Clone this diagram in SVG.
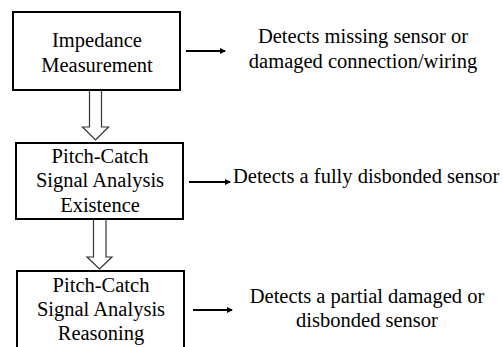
<svg xmlns="http://www.w3.org/2000/svg" width="503" height="347" viewBox="0 0 503 347">
<defs>
<style>
.box{fill:#fff;stroke:#000;stroke-width:2}
text{font-family:'Liberation Serif','Times New Roman','DejaVu Serif',serif;font-size:20.5px;fill:#000}
.t{text-anchor:middle}
.arr{stroke:#000;stroke-width:2;fill:none;marker-end:url(#ah)}
.hollow{fill:#fff;stroke:#333;stroke-width:1.2}
</style>
<marker id="ah" markerWidth="6" markerHeight="6" refX="5" refY="3" orient="auto" markerUnits="userSpaceOnUse">
<path d="M0,0 L6,3 L0,6 Z" fill="#000"/>
</marker>
</defs>
<rect width="503" height="347" fill="#fff"/>
<g id="connectors">
<path class="hollow" d="M89.5,90 L101.5,90 L101.5,127 L108.5,127 L95.5,140 L82.5,127 L89.5,127 Z"/>
<path class="hollow" d="M93.5,219 L106,219 L106,257 L112,257 L99.5,269 L87,257 L93.5,257 Z"/>
<line class="arr" x1="186" y1="51" x2="225" y2="51"/>
<line class="arr" x1="189" y1="182" x2="230" y2="182"/>
<line class="arr" x1="193" y1="310" x2="232" y2="310"/>
</g>
<g id="n1">
<rect class="box" x="13" y="12" width="167" height="78"/>
<text class="t" x="97" y="47">Impedance</text>
<text class="t" x="97" y="72">Measurement</text>
</g>
<g id="n2">
<rect class="box" x="16" y="143" width="167" height="76"/>
<text class="t" x="100" y="163">Pitch-Catch</text>
<text class="t" x="100" y="187">Signal Analysis</text>
<text class="t" x="100" y="212">Existence</text>
</g>
<g id="n3">
<rect class="box" x="17" y="271" width="167" height="90"/>
<text class="t" x="101" y="292">Pitch-Catch</text>
<text class="t" x="101" y="316">Signal Analysis</text>
<text class="t" x="101" y="340">Reasoning</text>
</g>
<g id="d1">
<text class="t" x="363" y="43">Detects missing sensor or</text>
<text class="t" x="363" y="68">damaged connection/wiring</text>
</g>
<g id="d2">
<text x="233" y="183">Detects a fully disbonded sensor</text>
</g>
<g id="d3">
<text class="t" x="367" y="303">Detects a partial damaged or</text>
<text class="t" x="367" y="327">disbonded sensor</text>
</g>
</svg>
